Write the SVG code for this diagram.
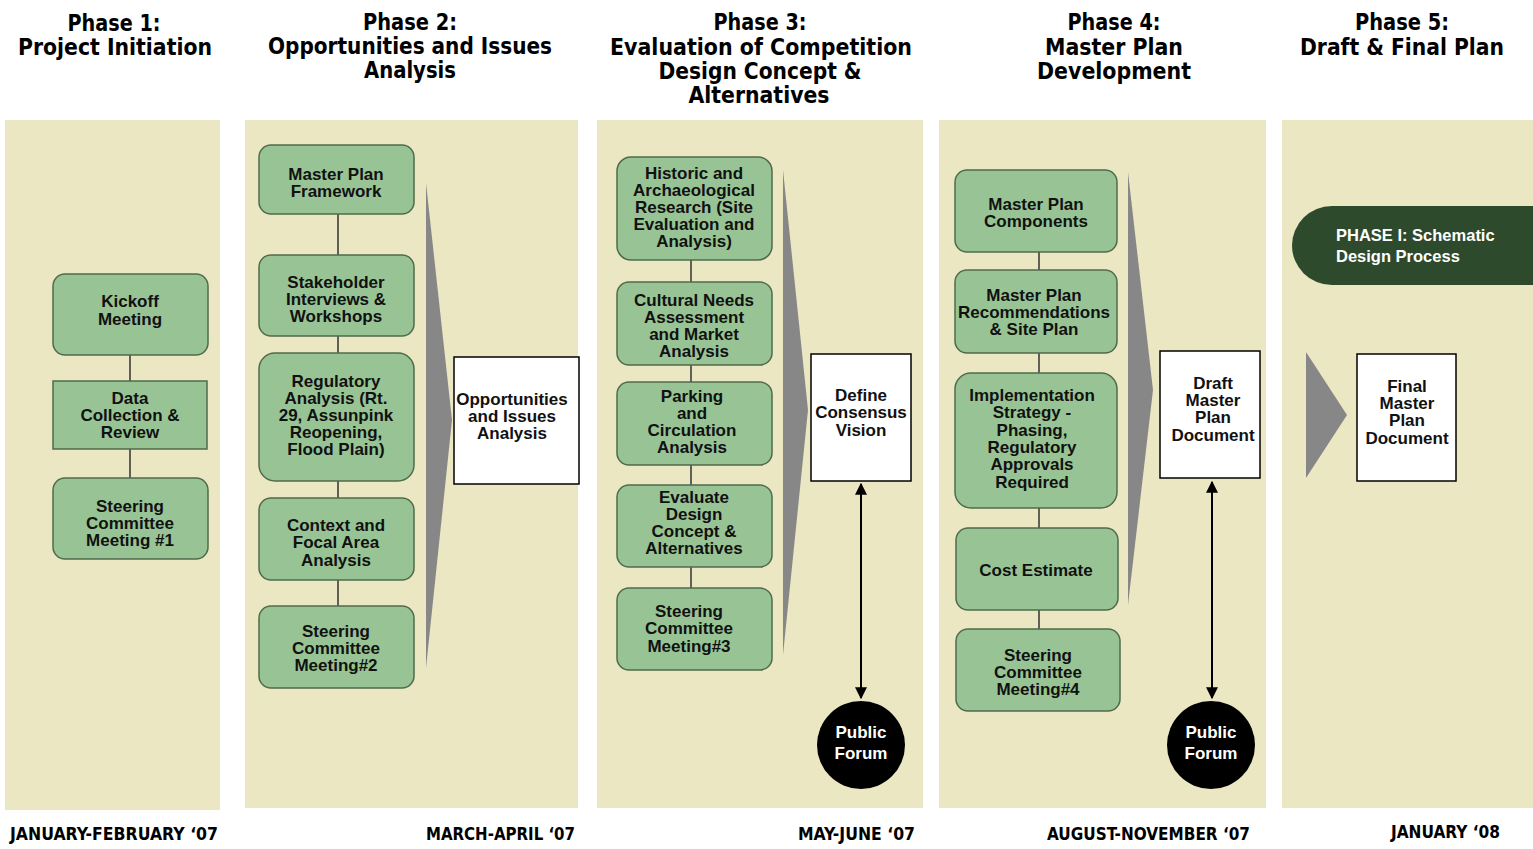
<svg xmlns="http://www.w3.org/2000/svg" width="1533" height="849" viewBox="0 0 1533 849">
<defs>
<style>
.panel{fill:#ECE7C3}
.node{fill:#98C495;stroke:#4F6B4C;stroke-width:1.5}
.box{fill:#ffffff;stroke:#000;stroke-width:1.5}
.nt{font-family:"Liberation Sans",Arial,sans-serif;font-weight:bold;font-size:17px;fill:#111;text-anchor:middle}
.wt{font-family:"Liberation Sans",Arial,sans-serif;font-weight:bold;font-size:17px;fill:#fff;text-anchor:middle}
.hd{font-family:"DejaVu Sans Condensed","DejaVu Sans",sans-serif;font-weight:bold;font-size:23px;fill:#000;text-anchor:middle}
.ft{font-family:"DejaVu Sans Condensed","DejaVu Sans",sans-serif;font-weight:bold;font-size:17px;fill:#000}
.conn{stroke:#333;stroke-width:1.5;fill:none}
.dbl{stroke:#000;stroke-width:2;fill:none;marker-start:url(#ah);marker-end:url(#ah)}
.garrow{fill:#878787}
</style>
<marker id="ah" viewBox="0 0 10 10" refX="9" refY="5" markerWidth="6" markerHeight="6" orient="auto-start-reverse" markerUnits="strokeWidth">
<path d="M0,0 L10,5 L0,10 Z" fill="#000"/>
</marker>
</defs>
<rect width="1533" height="849" fill="#ffffff"/>

<g id="panels">
<rect class="panel" x="5" y="120" width="215" height="690"/>
<rect class="panel" x="245" y="120" width="333" height="688"/>
<rect class="panel" x="597" y="120" width="326" height="688"/>
<rect class="panel" x="939" y="120" width="327" height="688"/>
<rect class="panel" x="1282" y="120" width="251" height="688"/>
</g>

<g id="headers">
<text class="hd" x="114" y="31" textLength="93" lengthAdjust="spacingAndGlyphs">Phase 1:</text>
<text class="hd" x="115" y="55" textLength="194" lengthAdjust="spacingAndGlyphs">Project Initiation</text>
<text class="hd" x="410" y="30" textLength="94" lengthAdjust="spacingAndGlyphs">Phase 2:</text>
<text class="hd" x="410" y="54" textLength="284" lengthAdjust="spacingAndGlyphs">Opportunities and Issues</text>
<text class="hd" x="410" y="78" textLength="92" lengthAdjust="spacingAndGlyphs">Analysis</text>
<text class="hd" x="760" y="30" textLength="93" lengthAdjust="spacingAndGlyphs">Phase 3:</text>
<text class="hd" x="761" y="55" textLength="302" lengthAdjust="spacingAndGlyphs">Evaluation of Competition</text>
<text class="hd" x="760" y="79" textLength="203" lengthAdjust="spacingAndGlyphs">Design Concept &amp;</text>
<text class="hd" x="759" y="103" textLength="141" lengthAdjust="spacingAndGlyphs">Alternatives</text>
<text class="hd" x="1114" y="30" textLength="93" lengthAdjust="spacingAndGlyphs">Phase 4:</text>
<text class="hd" x="1114" y="55" textLength="138" lengthAdjust="spacingAndGlyphs">Master Plan</text>
<text class="hd" x="1114" y="79" textLength="154" lengthAdjust="spacingAndGlyphs">Development</text>
<text class="hd" x="1402" y="30" textLength="94" lengthAdjust="spacingAndGlyphs">Phase 5:</text>
<text class="hd" x="1402" y="55" textLength="204" lengthAdjust="spacingAndGlyphs">Draft &amp; Final Plan</text>
</g>

<g id="connectors">
<line class="conn" x1="130" y1="355" x2="130" y2="381"/>
<line class="conn" x1="130" y1="449" x2="130" y2="478"/>
<line class="conn" x1="338" y1="214" x2="338" y2="255"/>
<line class="conn" x1="338" y1="336" x2="338" y2="353"/>
<line class="conn" x1="338" y1="481" x2="338" y2="498"/>
<line class="conn" x1="338" y1="580" x2="338" y2="606"/>
<line class="conn" x1="691" y1="260" x2="691" y2="282"/>
<line class="conn" x1="691" y1="365" x2="691" y2="382"/>
<line class="conn" x1="691" y1="465" x2="691" y2="485"/>
<line class="conn" x1="691" y1="567" x2="691" y2="588"/>
<line class="conn" x1="1039" y1="252" x2="1039" y2="270"/>
<line class="conn" x1="1039" y1="353" x2="1039" y2="373"/>
<line class="conn" x1="1039" y1="508" x2="1039" y2="528"/>
<line class="conn" x1="1039" y1="610" x2="1039" y2="629"/>
<line class="dbl" x1="861" y1="484" x2="861" y2="698"/>
<line class="dbl" x1="1212" y1="482" x2="1212" y2="698"/>
<polygon class="garrow" points="426,183 452,420 426,668"/>
<polygon class="garrow" points="783,170 808,410 783,655"/>
<polygon class="garrow" points="1128,172 1153,390 1128,605"/>
<polygon class="garrow" points="1306,352 1347,415 1306,478"/>
</g>

<g id="n-kickoff">
<rect class="node" x="53" y="274" width="155" height="81" rx="12"/>
<text class="nt" x="130" y="307">Kickoff</text>
<text class="nt" x="130" y="325">Meeting</text>
</g>
<g id="n-data">
<rect class="node" x="53" y="381" width="154" height="68"/>
<text class="nt" x="130" y="404">Data</text>
<text class="nt" x="130" y="421">Collection &amp;</text>
<text class="nt" x="130" y="438">Review</text>
</g>
<g id="n-steer1">
<rect class="node" x="53" y="478" width="155" height="81" rx="12"/>
<text class="nt" x="130" y="512">Steering</text>
<text class="nt" x="130" y="529">Committee</text>
<text class="nt" x="130" y="546">Meeting #1</text>
</g>

<g id="n-framework">
<rect class="node" x="259" y="145" width="155" height="69" rx="12"/>
<text class="nt" x="336" y="180">Master Plan</text>
<text class="nt" x="336" y="197">Framework</text>
</g>
<g id="n-stakeholder">
<rect class="node" x="259" y="255" width="155" height="81" rx="12"/>
<text class="nt" x="336" y="288">Stakeholder</text>
<text class="nt" x="336" y="305">Interviews &amp;</text>
<text class="nt" x="336" y="322">Workshops</text>
</g>
<g id="n-regulatory">
<rect class="node" x="259" y="353" width="155" height="128" rx="16"/>
<text class="nt" x="336" y="387">Regulatory</text>
<text class="nt" x="336" y="404">Analysis (Rt.</text>
<text class="nt" x="336" y="421">29, Assunpink</text>
<text class="nt" x="336" y="438">Reopening,</text>
<text class="nt" x="336" y="455">Flood Plain)</text>
</g>
<g id="n-context">
<rect class="node" x="259" y="498" width="155" height="82" rx="12"/>
<text class="nt" x="336" y="531">Context and</text>
<text class="nt" x="336" y="548">Focal Area</text>
<text class="nt" x="336" y="566">Analysis</text>
</g>
<g id="n-steer2">
<rect class="node" x="259" y="606" width="155" height="82" rx="12"/>
<text class="nt" x="336" y="637">Steering</text>
<text class="nt" x="336" y="654">Committee</text>
<text class="nt" x="336" y="671">Meeting#2</text>
</g>
<g id="n-opps">
<rect class="box" x="454" y="357" width="125" height="127"/>
<text class="nt" x="512" y="405">Opportunities</text>
<text class="nt" x="512" y="422">and Issues</text>
<text class="nt" x="512" y="439">Analysis</text>
</g>

<g id="n-historic">
<rect class="node" x="617" y="157" width="155" height="103" rx="14"/>
<text class="nt" x="694" y="179">Historic and</text>
<text class="nt" x="694" y="196">Archaeological</text>
<text class="nt" x="694" y="213">Research (Site</text>
<text class="nt" x="694" y="230">Evaluation and</text>
<text class="nt" x="694" y="247">Analysis)</text>
</g>
<g id="n-cultural">
<rect class="node" x="617" y="282" width="155" height="83" rx="12"/>
<text class="nt" x="694" y="306">Cultural Needs</text>
<text class="nt" x="694" y="323">Assessment</text>
<text class="nt" x="694" y="340">and Market</text>
<text class="nt" x="694" y="357">Analysis</text>
</g>
<g id="n-parking">
<rect class="node" x="617" y="382" width="155" height="83" rx="12"/>
<text class="nt" x="692" y="402">Parking</text>
<text class="nt" x="692" y="419">and</text>
<text class="nt" x="692" y="436">Circulation</text>
<text class="nt" x="692" y="453">Analysis</text>
</g>
<g id="n-evaluate">
<rect class="node" x="617" y="485" width="155" height="82" rx="12"/>
<text class="nt" x="694" y="503">Evaluate</text>
<text class="nt" x="694" y="520">Design</text>
<text class="nt" x="694" y="537">Concept &amp;</text>
<text class="nt" x="694" y="554">Alternatives</text>
</g>
<g id="n-steer3">
<rect class="node" x="617" y="588" width="155" height="82" rx="12"/>
<text class="nt" x="689" y="617">Steering</text>
<text class="nt" x="689" y="634">Committee</text>
<text class="nt" x="689" y="652">Meeting#3</text>
</g>
<g id="n-consensus">
<rect class="box" x="811" y="354" width="100" height="127"/>
<text class="nt" x="861" y="401">Define</text>
<text class="nt" x="861" y="418">Consensus</text>
<text class="nt" x="861" y="436">Vision</text>
</g>
<g id="n-forum1">
<circle cx="861" cy="745" r="44" fill="#000"/>
<text class="wt" x="861" y="738">Public</text>
<text class="wt" x="861" y="759">Forum</text>
</g>

<g id="n-components">
<rect class="node" x="955" y="170" width="162" height="82" rx="12"/>
<text class="nt" x="1036" y="210">Master Plan</text>
<text class="nt" x="1036" y="227">Components</text>
</g>
<g id="n-recommend">
<rect class="node" x="955" y="270" width="162" height="83" rx="12"/>
<text class="nt" x="1034" y="301">Master Plan</text>
<text class="nt" x="1034" y="318">Recommendations</text>
<text class="nt" x="1034" y="335">&amp; Site Plan</text>
</g>
<g id="n-implementation">
<rect class="node" x="955" y="373" width="162" height="135" rx="16"/>
<text class="nt" x="1032" y="401">Implementation</text>
<text class="nt" x="1032" y="418">Strategy -</text>
<text class="nt" x="1032" y="436">Phasing,</text>
<text class="nt" x="1032" y="453">Regulatory</text>
<text class="nt" x="1032" y="470">Approvals</text>
<text class="nt" x="1032" y="488">Required</text>
</g>
<g id="n-cost">
<rect class="node" x="956" y="528" width="162" height="82" rx="12"/>
<text class="nt" x="1036" y="576">Cost Estimate</text>
</g>
<g id="n-steer4">
<rect class="node" x="956" y="629" width="164" height="82" rx="12"/>
<text class="nt" x="1038" y="661">Steering</text>
<text class="nt" x="1038" y="678">Committee</text>
<text class="nt" x="1038" y="695">Meeting#4</text>
</g>
<g id="n-draft">
<rect class="box" x="1160" y="351" width="100" height="127"/>
<text class="nt" x="1213" y="389">Draft</text>
<text class="nt" x="1213" y="406">Master</text>
<text class="nt" x="1213" y="423">Plan</text>
<text class="nt" x="1213" y="441">Document</text>
</g>
<g id="n-forum2">
<circle cx="1211" cy="745" r="44" fill="#000"/>
<text class="wt" x="1211" y="738">Public</text>
<text class="wt" x="1211" y="759">Forum</text>
</g>

<g id="n-phase-banner">
<path d="M1332,206 H1533 V285 H1332 A40,39.5 0 0 1 1332,206 Z" fill="#2E4A2D"/>
<text class="wt" x="1336" y="241" style="text-anchor:start;font-size:16.5px">PHASE I: Schematic</text>
<text class="wt" x="1336" y="262" style="text-anchor:start;font-size:16.5px">Design Process</text>
</g>
<g id="n-final">
<rect class="box" x="1357" y="354" width="99" height="127"/>
<text class="nt" x="1407" y="392">Final</text>
<text class="nt" x="1407" y="409">Master</text>
<text class="nt" x="1407" y="426">Plan</text>
<text class="nt" x="1407" y="444">Document</text>
</g>

<g id="dates">
<text class="ft" x="10" y="840" textLength="208" lengthAdjust="spacingAndGlyphs">JANUARY-FEBRUARY ‘07</text>
<text class="ft" x="426" y="840" textLength="149" lengthAdjust="spacingAndGlyphs">MARCH-APRIL ‘07</text>
<text class="ft" x="798" y="840" textLength="117" lengthAdjust="spacingAndGlyphs">MAY-JUNE ‘07</text>
<text class="ft" x="1047" y="840" textLength="203" lengthAdjust="spacingAndGlyphs">AUGUST-NOVEMBER ‘07</text>
<text class="ft" x="1391" y="838" textLength="109" lengthAdjust="spacingAndGlyphs">JANUARY ‘08</text>
</g>
</svg>
